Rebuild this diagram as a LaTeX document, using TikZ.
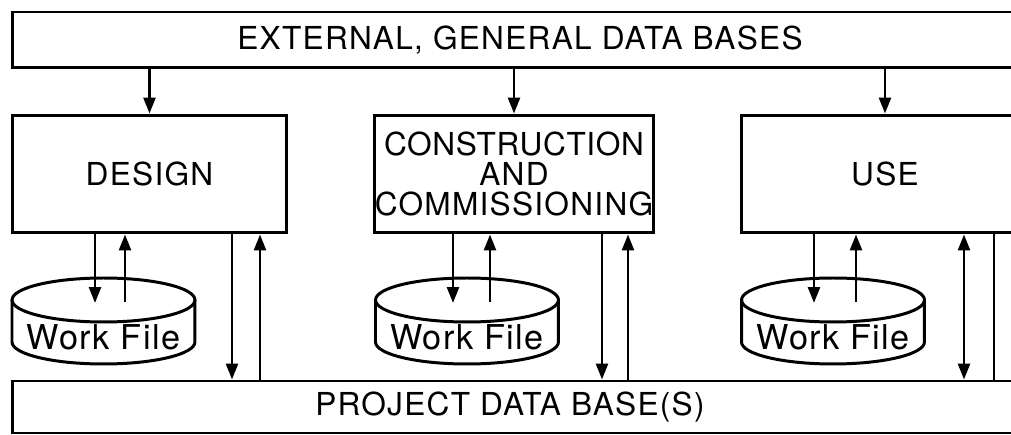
\documentclass[tikz,border=0pt]{standalone}
\usepackage{fontspec}
\setmainfont{TeX Gyre Heros}[LetterSpace=4]
\usetikzlibrary{arrows.meta,positioning,calc}
\tikzset{
  basebox/.style={rectangle,draw=black,line width=1.7pt,align=center,
                  inner sep=0pt,font=\fontsize{18}{17}\selectfont},
  barnode/.style={basebox,minimum width=20.32cm,minimum height=1.12cm},
  phasenode/.style={basebox,minimum height=2.36cm},
  lbl/.style={inner sep=0pt,font=\fontsize{18}{17}\selectfont},
  filelbl/.style={inner sep=0pt,font=\fontsize{19.5}{20}\selectfont},
  cyl/.style={line width=1.7pt},
  arr/.style={-{Triangle[length=0.32cm,width=0.24cm]},line width=1.5pt},
  dblarr/.style={{Triangle[length=0.32cm,width=0.24cm]}-{Triangle[length=0.32cm,width=0.24cm]},
                 line width=1.5pt},
  plain/.style={line width=1.5pt}
}

\begin{document}
\begin{tikzpicture}[x=0.02cm,y=-0.02cm]
  \useasboundingbox (0,0) rectangle (1011,435);
  \clip (0,0) rectangle (1011,435);

  % data bases
  \node[barnode] (ext) at (520,40) {EXTERNAL, GENERAL DATA BASES};
  \node[barnode,minimum height=1.04cm] (pdb) at (520,407) {};
  \node[lbl] (pdbtxt) at (510,407) {PROJECT DATA BASE(S)};

  % phases
  \node[phasenode,minimum width=5.5cm] (design) at (149.5,174) {DESIGN};
  \node[phasenode,minimum width=5.56cm] (constr) at (514,174)
      {\addfontfeatures{LetterSpace=2}CONSTRUCTION\\AND\\COMMISSIONING};
  \node[phasenode,minimum width=5.76cm] (use) at (885,174) {USE};

  % work files
  \foreach \cx/\i in {103.5/1,467/2,833/3}{
    \draw[cyl] (\cx,300) ellipse [x radius=1.83cm,y radius=0.44cm];
    \draw[cyl] ($(\cx,300)+(-91.5,0)$) -- ++(0,42)
      arc[start angle=180,end angle=360,x radius=1.83cm,y radius=0.44cm] -- ++(0,-42);
    \node[filelbl,anchor=base] (wf\i) at (\cx,350) {Work File};
  }

  \coordinate (in1) at (95,303);   \coordinate (out1) at (125,302);
  \coordinate (in2) at (453,303);  \coordinate (out2) at (490,302);
  \coordinate (in3) at (814,303);  \coordinate (out3) at (856,302);
  \coordinate (dn1) at (232,0);    \coordinate (up1) at (260,0);
  \coordinate (dn2) at (602,0);    \coordinate (up2) at (628,0);
  \coordinate (dn3) at (964,0);    \coordinate (ln3) at (994,0);

  \draw[arr] (ext.south -| design.north) -- (design.north);
  \draw[arr] (ext.south -| constr.north) -- (constr.north);
  \draw[arr] (ext.south -| use.north) -- (use.north);

  \draw[arr] (design.south -| in1) -- (in1);
  \draw[arr] (out1) -- (design.south -| out1);
  \draw[arr] (constr.south -| in2) -- (in2);
  \draw[arr] (out2) -- (constr.south -| out2);
  \draw[arr] (use.south -| in3) -- (in3);
  \draw[arr] (out3) -- (use.south -| out3);

  \draw[arr] (design.south -| dn1) -- (pdb.north -| dn1);
  \draw[arr] (pdb.north -| up1) -- (design.south -| up1);
  \draw[arr] (constr.south -| dn2) -- (pdb.north -| dn2);
  \draw[arr] (pdb.north -| up2) -- (constr.south -| up2);
  \draw[dblarr] (use.south -| dn3) -- (pdb.north -| dn3);
  \draw[plain] (use.south -| ln3) -- (pdb.north -| ln3);

\end{tikzpicture}
\end{document}
